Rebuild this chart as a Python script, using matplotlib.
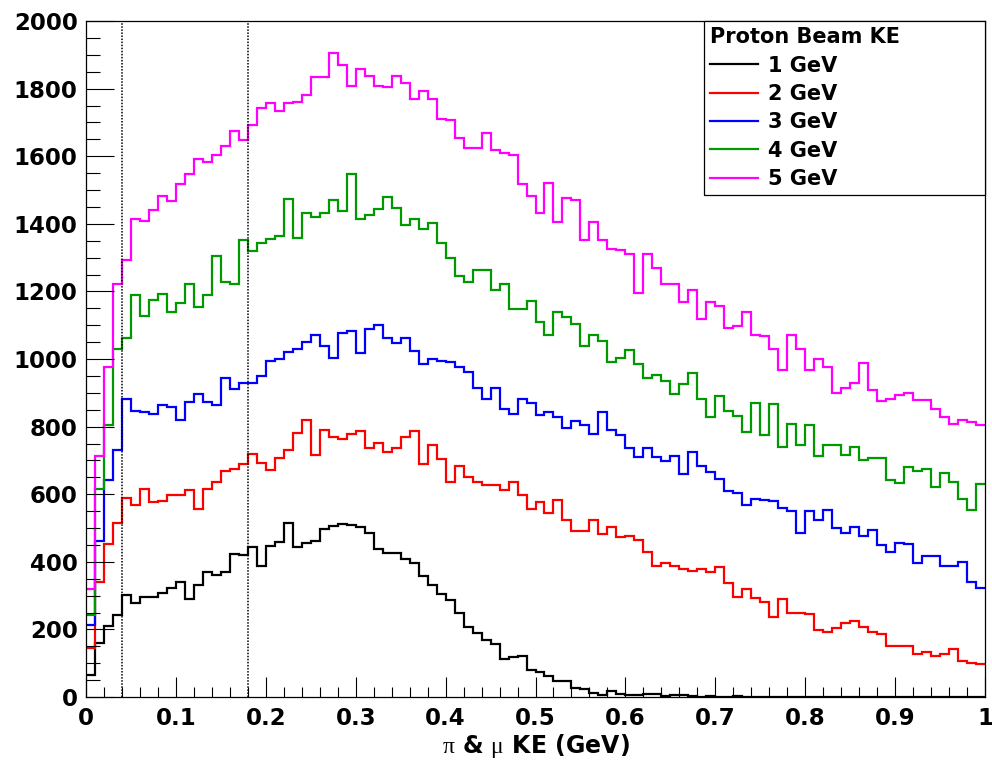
import numpy as np
import matplotlib
matplotlib.use("Agg")
import matplotlib.pyplot as plt
from matplotlib.lines import Line2D

plt.rcParams['font.family'] = ['DejaVu Sans']
plt.rcParams['mathtext.fontset'] = 'custom'
plt.rcParams['mathtext.rm'] = 'Liberation Serif'

# 100 bins, 0 - 1 GeV
edges = np.linspace(0.0, 1.0, 101)

ke_1gev = [64, 160, 211, 244, 302, 278, 296, 296, 309, 322,
           339, 291, 332, 371, 362, 369, 423, 421, 443, 388,
           446, 459, 515, 443, 456, 463, 498, 506, 511, 508,
           502, 486, 437, 427, 427, 408, 395, 358, 332, 304,
           287, 248, 208, 189, 169, 156, 111, 117, 120, 81,
           74, 63, 48, 46, 28, 23, 12, 7, 17, 10,
           7, 5, 8, 8, 3, 5, 5, 2, 1, 2,
           1, 1, 2, 1, 0, 1, 1, 0, 1, 0,
           0, 1, 0, 0, 0, 1, 0, 0, 0, 0,
           0, 0, 0, 0, 0, 0, 0, 0, 0, 0]

ke_2gev = [145, 341, 453, 515, 589, 567, 615, 576, 580, 597,
           599, 612, 556, 615, 635, 668, 674, 690, 720, 693,
           671, 706, 730, 782, 821, 717, 791, 769, 762, 778,
           788, 736, 752, 726, 736, 769, 786, 688, 745, 704,
           635, 684, 652, 635, 628, 628, 612, 635, 599, 556,
           576, 543, 584, 524, 491, 491, 524, 482, 502, 472,
           476, 465, 430, 387, 397, 388, 380, 374, 378, 371,
           384, 336, 297, 319, 293, 280, 238, 289, 250, 248,
           245, 198, 193, 203, 219, 225, 206, 193, 186, 150,
           152, 150, 128, 133, 121, 126, 143, 107, 102, 98]

ke_3gev = [212, 463, 642, 730, 883, 846, 843, 838, 863, 857,
           821, 872, 896, 873, 863, 945, 912, 928, 928, 951,
           994, 1001, 1020, 1030, 1050, 1071, 1039, 1003, 1078, 1084,
           1018, 1088, 1101, 1062, 1046, 1062, 1023, 986, 1001, 994,
           990, 977, 962, 915, 882, 915, 851, 837, 882, 869,
           834, 844, 827, 795, 818, 804, 779, 843, 789, 775,
           736, 710, 736, 710, 697, 713, 661, 726, 682, 665,
           645, 608, 603, 567, 586, 584, 580, 558, 550, 486,
           551, 524, 554, 499, 486, 502, 476, 493, 450, 430,
           456, 452, 397, 417, 417, 387, 387, 400, 339, 323]

ke_4gev = [244, 616, 804, 1029, 1062, 1190, 1127, 1175, 1192, 1140,
           1166, 1222, 1153, 1190, 1306, 1228, 1222, 1352, 1320, 1342,
           1355, 1365, 1472, 1358, 1431, 1420, 1433, 1470, 1437, 1548,
           1414, 1427, 1444, 1479, 1446, 1397, 1414, 1385, 1403, 1342,
           1299, 1247, 1229, 1264, 1264, 1205, 1221, 1147, 1147, 1173,
           1108, 1072, 1138, 1124, 1104, 1039, 1072, 1052, 990, 1003,
           1027, 984, 945, 954, 934, 895, 925, 960, 882, 827,
           892, 847, 831, 784, 869, 775, 866, 739, 808, 747,
           804, 713, 747, 747, 717, 740, 700, 706, 706, 642,
           632, 680, 668, 675, 622, 662, 636, 586, 554, 629]

ke_5gev = [319, 713, 977, 1222, 1293, 1414, 1407, 1442, 1482, 1466,
           1518, 1547, 1592, 1583, 1603, 1631, 1674, 1648, 1691, 1742,
           1756, 1735, 1756, 1759, 1782, 1835, 1835, 1905, 1870, 1808,
           1857, 1837, 1807, 1805, 1837, 1818, 1768, 1792, 1768, 1711,
           1707, 1655, 1625, 1625, 1668, 1618, 1610, 1603, 1518, 1483,
           1433, 1522, 1405, 1476, 1469, 1352, 1405, 1351, 1325, 1323,
           1310, 1195, 1310, 1268, 1221, 1221, 1170, 1205, 1117, 1169,
           1156, 1091, 1097, 1140, 1072, 1068, 1029, 968, 1071, 1029,
           968, 999, 977, 899, 915, 929, 988, 908, 877, 883,
           893, 899, 880, 880, 851, 827, 808, 821, 814, 804]

labels = ['1 GeV', '2 GeV', '3 GeV', '4 GeV', '5 GeV']
colors = ['black', '#ff0000', '#0000ff', '#009a00', '#ff00ff']
cuts = [0.04, 0.18]

fig = plt.figure(figsize=(9.92, 7.65), dpi=100)
ax = fig.add_axes([86/992, 1-697/765, 899/992, 676/765])

series = [ke_1gev, ke_2gev, ke_3gev, ke_4gev, ke_5gev]
for vals, c in zip(series, colors):
    ax.stairs(vals, edges, color=c, lw=1.6, baseline=None)

for xc in cuts:
    ax.axvline(xc, color='black', lw=1.1, ls=(0, (1, 1)))

ax.set_xlim(0, 1)
ax.set_ylim(0, 2000)
ax.set_xticks(np.arange(0, 1.01, 0.1))
ax.set_xticklabels(['0', '0.1', '0.2', '0.3', '0.4', '0.5', '0.6', '0.7', '0.8', '0.9', '1'])
ax.set_xticks(np.arange(0, 1.001, 0.02), minor=True)
ax.set_yticks(np.arange(0, 2001, 200))
ax.set_yticks(np.arange(0, 2001, 50), minor=True)
ax.tick_params(axis='both', which='both', direction='in', top=False, right=False, width=0.8)
ax.tick_params(axis='y', which='major', length=20, pad=6)
ax.tick_params(axis='y', which='minor', length=10)
ax.tick_params(axis='x', which='major', length=14.5, pad=7)
ax.tick_params(axis='x', which='minor', length=7.2)
for lab in ax.get_xticklabels() + ax.get_yticklabels():
    lab.set_fontsize(16.5)
    lab.set_fontweight('bold')
for sp in ax.spines.values():
    sp.set_linewidth(0.9)

ax.set_xlabel(r'$\mathrm{\pi}$ & $\mathrm{\mu}$ KE (GeV)', fontsize=17, fontweight='bold', labelpad=2)

handles = [Line2D([], [], color=c, lw=1.6) for c in colors]
leg = ax.legend(handles, labels, title='Proton Beam KE', loc='upper left',
                bbox_to_anchor=(0.687, 0.75, 0.313, 0.25), mode='expand',
                borderaxespad=0, fancybox=False, framealpha=1, edgecolor='black',
                prop={'weight': 'bold', 'size': 15}, alignment='left',
                title_fontproperties={'weight': 'bold', 'size': 15},
                handlelength=2.3, handletextpad=0.5, labelspacing=0.4,
                borderpad=0.3)
leg.get_frame().set_linewidth(0.9)

fig.savefig('out.png', dpi=100)
